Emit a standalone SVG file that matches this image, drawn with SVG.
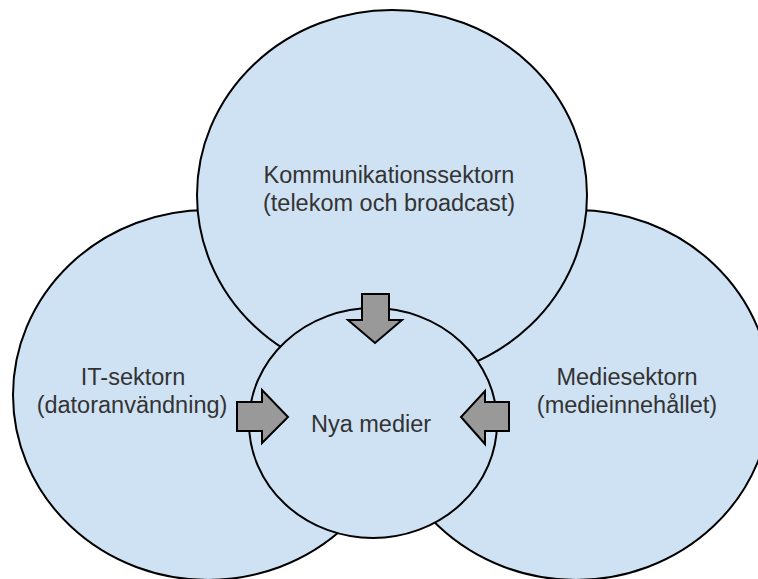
<svg xmlns="http://www.w3.org/2000/svg" width="758" height="579" viewBox="0 0 758 579">
<style>
.c{fill:#cfe2f3;stroke:#000;stroke-width:2}
.a{fill:#999999;stroke:#000;stroke-width:2;stroke-linejoin:miter}
.t{font-family:"Liberation Sans",Arial,sans-serif;font-size:23.5px;fill:#333;text-anchor:middle}
</style>
<rect width="758" height="579" fill="#fff"/>
<g id="it">
<ellipse class="c" cx="208" cy="395" rx="195" ry="185"/>
<text class="t" x="133" y="385">IT-sektorn</text>
<text class="t" x="132" y="413">(datoranvändning)</text>
</g>
<g id="medie">
<ellipse class="c" cx="576" cy="395" rx="195" ry="185"/>
<text class="t" x="627" y="385">Mediesektorn</text>
<text class="t" x="627" y="413">(medieinnehållet)</text>
</g>
<g id="komm">
<ellipse class="c" cx="392" cy="195" rx="195" ry="185"/>
<text class="t" x="389" y="183">Kommunikationssektorn</text>
<text class="t" x="389" y="211">(telekom och broadcast)</text>
</g>
<g id="nya">
<ellipse class="c" cx="373" cy="423" rx="124" ry="115"/>
<text class="t" x="371" y="432">Nya medier</text>
</g>
<g id="connectors">
<polygon class="a" points="362,294 389,294 389,320 402,320 375,343 348,320 362,320"/>
<polygon class="a" points="237,402 262,402 262,390 288,417 262,443 262,431 237,431"/>
<polygon class="a" points="509,402 485,402 485,391 461,417 485,444 485,431 509,431"/>
</g>
</svg>
